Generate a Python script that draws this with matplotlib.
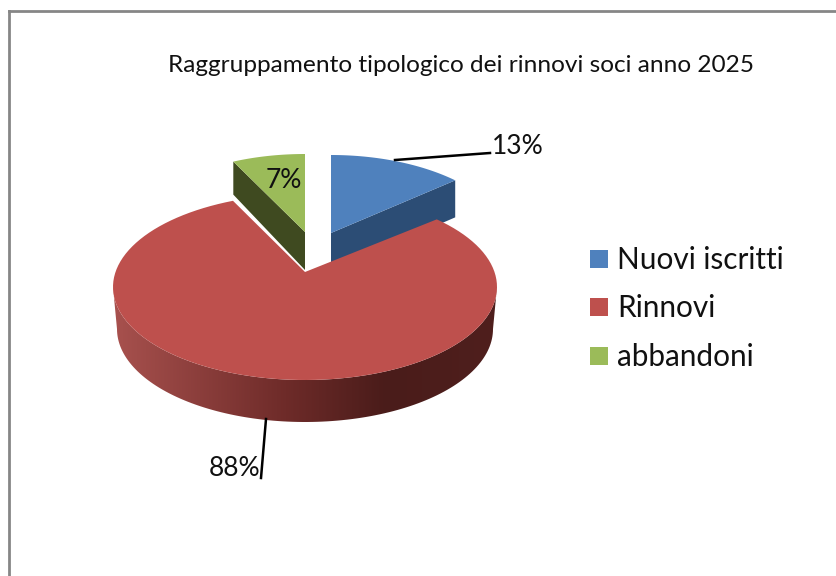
import numpy as np
import matplotlib
matplotlib.use("Agg")
import matplotlib.pyplot as plt
from matplotlib.colors import LinearSegmentedColormap
from matplotlib.patches import Polygon, Rectangle

# chart data
title = "Raggruppamento tipologico dei rinnovi soci anno 2025"
categories = ["Nuovi iscritti", "Rinnovi", "abbandoni"]
values = [13, 88, 7]
value_labels = ["13%", "88%", "7%"]

top_colors = ["#4F81BD", "#BE504D", "#9BBB59"]
side_colors = ["#2C4D75", "#4A1C1A", "#3F4A20"]

plt.rcParams["font.family"] = ["Lato", "DejaVu Sans"]

W, H = 837, 576
fig = plt.figure(figsize=(W / 100, H / 100), dpi=100)
ax = fig.add_axes([0, 0, 1, 1])

# pie geometry, in image pixels
CX, CY = 305, 287
RX, RY = 192, 93
APEX_UP = 15
DEPTH = 38


def rim(a0, a1, cx, cy, rx, ry):
    # angles in degrees, clockwise from the top
    t = np.radians(np.linspace(a0, a1, 120))
    return np.column_stack([cx + rx * np.sin(t), cy - ry * np.cos(t)])


# slice angles from the values
shares = np.array(values) / sum(values) * 360
ends = np.cumsum(shares)
starts = ends - shares

# blue and green slices are pulled out (offset x, offset y, radius x)
blue_off = (26, -39, 181)
green_off = (0, -40, 181)


def draw_slice(i, off, wall_angle, corner_depth):
    cx, cy, rx = CX + off[0], CY + off[1], off[2]
    apex = np.array([cx, cy - APEX_UP])
    edge = rim(wall_angle, wall_angle, cx, cy, rx, RY)[0]
    ax.add_patch(Polygon([apex, edge, edge + [0, corner_depth], apex + [0, DEPTH]],
                         fc=side_colors[i], ec="none", zorder=2))
    top = np.vstack([apex, rim(starts[i], ends[i], cx, cy, rx, RY)])
    ax.add_patch(Polygon(top, fc=top_colors[i], ec="none", zorder=3))


draw_slice(2, green_off, starts[2], 33)
draw_slice(0, blue_off, ends[0], 37)

# red slice: wall with a horizontal gradient, then the top
wall_top = rim(90, 270, CX, CY, RX, RY)
wall_bot = rim(270, 90, CX, CY + 42, RX - 4, RY)
wall = Polygon(np.vstack([wall_top, wall_bot]), fc="none", ec="none", zorder=4)
ax.add_patch(wall)
cmap = LinearSegmentedColormap.from_list(
    "wall", [(0, "#4F1F1D"), (0.29, "#4A1C1A"), (0.55, "#6E2B29"), (1, "#A8514E")])
im = ax.imshow(np.linspace(0, 1, 256).reshape(1, -1), cmap=cmap, aspect="auto",
               extent=(CX + RX, CX - RX, 430, 280), zorder=4)
im.set_clip_path(wall)

# far edge is foreshortened a little, so the left corner sits closer to the top
red_apex = [CX, CY - APEX_UP]
red_top = np.vstack([red_apex, rim(starts[1], ends[1] + 1.3, CX, CY, RX, RY)])
ax.add_patch(Polygon(red_top, fc=top_colors[1], ec="none", zorder=5))

# leader lines and value labels
ax.plot([395, 490], [160, 153], color="black", lw=1.8, zorder=6)
ax.plot([266, 261], [419, 478], color="black", lw=1.8, zorder=6)
ax.text(492, 147, value_labels[0], fontsize=19, va="center", ha="left", color="#111111")
ax.text(209, 469, value_labels[1], fontsize=19, va="center", ha="left", color="#111111")
ax.text(284, 180, value_labels[2], fontsize=19, va="center", ha="center", color="#111111", zorder=6)

ax.text(461, 66, title, fontsize=17.55, va="center", ha="center", color="#111111")

# legend
legend_y = [259, 307, 356]
for name, color, y in zip(categories, top_colors, legend_y):
    ax.add_patch(Rectangle((590, y - 9), 18, 18, fc=color, ec="none"))
    ax.text(617, y + 1, name, fontsize=21.4, va="center", ha="left", color="#111111")

# chart frame
ax.plot([9.5, 9.5], [576, 11], color="#868686", lw=2, zorder=1, solid_capstyle="projecting")
ax.plot([9.5, 837], [11, 11], color="#868686", lw=2, zorder=1)

ax.set_xlim(0, W)
ax.set_ylim(H, 0)
ax.axis("off")

fig.savefig("out.png", dpi=100)
